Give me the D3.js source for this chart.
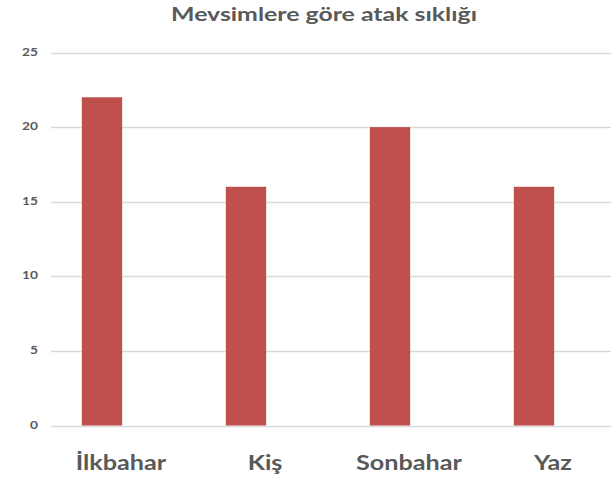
<!DOCTYPE html>
<html>
<head>
<meta charset="utf-8">
<script src="https://cdn.jsdelivr.net/npm/d3@7"></script>
<style>
body{margin:0;background:#fff;}
text{font-family:Lato,"Open Sans",sans-serif;fill:#595959;}
</style>
</head>
<body>
<div id="chart"></div>
<script>
var categories=["İlkbahar","Kiş","Sonbahar","Yaz"];
var values=[22,16,20,16];
var yTicks=[0,5,10,15,20,25];
var title="Mevsimlere göre atak sıklığı";

var W=611,H=477;
var svg=d3.select("#chart")
	.append("svg")
	.attr("width",W)
	.attr("height",H);

var x=d3.scaleBand()
	.domain(categories)
	.range([30,606])
	.paddingInner(0.72)
	.paddingOuter(0.36);

var y=d3.scaleLinear()
	.domain([0,25])
	.range([425.5,52.5]);

// gridlines
svg.selectAll("line.grid")
	.data(yTicks)
	.enter()
	.append("line")
	.attr("x1",51)
	.attr("x2",W)
	.attr("y1",function(d){return Math.round(y(d))+0.5;})
	.attr("y2",function(d){return Math.round(y(d))+0.5;})
	.attr("stroke","#d9d9d9")
	.attr("stroke-width",1.5);

svg.selectAll("text.ytick")
	.data(yTicks)
	.enter()
	.append("text")
	.attr("transform",function(d){return "translate(38,"+(y(d)+3)+") scale(1.25,1)";})
	.attr("text-anchor","end")
	.attr("font-size","11px")
	.attr("font-weight","bold")
	.text(function(d){return d;});

svg.selectAll("rect.bar")
	.data(values)
	.enter()
	.append("rect")
	.attr("x",function(d,i){return x(categories[i]);})
	.attr("width",x.bandwidth())
	.attr("y",function(d){return y(d);})
	.attr("height",function(d){return y(0)-y(d);})
	.attr("fill","#c0504d");

svg.selectAll("text.xlab")
	.data(categories)
	.enter()
	.append("text")
	.attr("transform",function(d){return "translate("+(x(d)+x.bandwidth()/2+19)+",470) scale(1.2,1)";})
	.attr("text-anchor","middle")
	.attr("font-size","21px")
	.attr("font-weight","bold")
	.text(function(d){return d;});

svg.append("text")
	.attr("transform","translate(324,21) scale(1.38,1)")
	.attr("text-anchor","middle")
	.attr("font-size","18px")
	.attr("font-weight","bold")
	.text(title);
</script>
</body>
</html>
